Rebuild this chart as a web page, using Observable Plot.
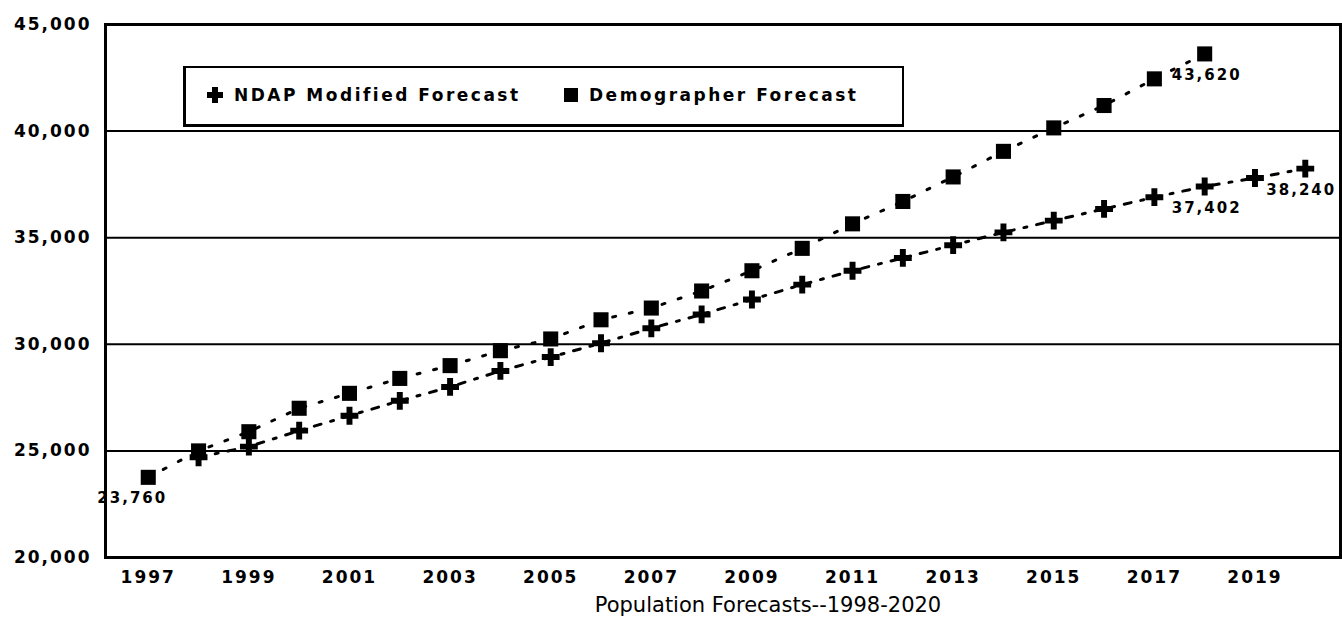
<!DOCTYPE html>
<html>
<head>
<meta charset="utf-8">
<script src="https://cdn.jsdelivr.net/npm/d3@7"></script>
<script src="https://cdn.jsdelivr.net/npm/@observablehq/plot@0.6"></script>
<style>
  html, body { margin: 0; padding: 0; background: #fff; }
  #wrap { position: relative; width: 1342px; height: 628px; overflow: hidden; background: #fff; }
  #chart svg text { letter-spacing: 2px; }
  #legend { position: absolute; left: 183px; top: 66px; width: 716px; height: 56px;
    border: 2px solid #000; border-bottom-width: 3px; border-left-width: 3px; box-sizing: content-box;
    font-family: "DejaVu Sans", sans-serif; font-weight: bold; font-size: 17px; letter-spacing: 2.5px; }
  #legend .item { position: absolute; top: 17px; display: flex; align-items: center; white-space: nowrap; }
  #legend svg { margin-right: 10px; }
  #title { position: absolute; top: 593px; left: 0; width: 1342px; text-align: center;
    font-family: "DejaVu Sans", sans-serif; font-size: 21px; padding-left: 194px; box-sizing: border-box; }
</style>
</head>
<body>
<div id="wrap">
  <div id="chart"></div>
  <div id="legend"></div>
  <div id="title"></div>
</div>
<script>
// ---- data ----
const titleText = "Population Forecasts--1998-2020";
const seriesNames = ["NDAP Modified Forecast", "Demographer Forecast"];

const demoYears = [1997, 1998, 1999, 2000, 2001, 2002, 2003, 2004, 2005, 2006, 2007,
                   2008, 2009, 2010, 2011, 2012, 2013, 2014, 2015, 2016, 2017, 2018];
const demoValues = [23760, 25000, 25900, 27000, 27700, 28400, 29000, 29700, 30250, 31150, 31700,
                    32500, 33450, 34500, 35650, 36700, 37850, 39050, 40150, 41200, 42450, 43620];

const ndapYears = [1998, 1999, 2000, 2001, 2002, 2003, 2004, 2005, 2006, 2007, 2008, 2009,
                   2010, 2011, 2012, 2013, 2014, 2015, 2016, 2017, 2018, 2019, 2020];
const ndapValues = [24700, 25200, 25950, 26650, 27350, 28000, 28750, 29400, 30050, 30750, 31400, 32100,
                    32800, 33450, 34050, 34650, 35250, 35800, 36350, 36900, 37402, 37800, 38240];

const demoLabelYears = [1997, 2018];
const ndapLabelYears = [2018, 2020];

const xTicks = [1997, 1999, 2001, 2003, 2005, 2007, 2009, 2011, 2013, 2015, 2017, 2019];
const yTicks = [20000, 25000, 30000, 35000, 40000, 45000];

// ---- build ----
const demo = demoYears.map((year, i) => ({year, value: demoValues[i]}));
const ndap = ndapYears.map((year, i) => ({year, value: ndapValues[i]}));
const fmt = d3.format(",");

const chart = Plot.plot({
  width: 1342,
  height: 590,
  marginLeft: 105,
  marginRight: 2,
  marginTop: 24,
  marginBottom: 33,
  style: {fontFamily: "DejaVu Sans", fontSize: "17px", fontWeight: "bold", background: "white", color: "black", overflow: "visible"},
  x: {domain: [1996.15, 2020.7], ticks: xTicks, tickFormat: d => String(d), tickSize: 0, tickPadding: 13, label: null},
  y: {domain: [20000, 45000], ticks: yTicks, tickFormat: d => fmt(d), tickSize: 0, tickPadding: 14, label: null},
  marks: [
    Plot.ruleY(yTicks, {stroke: "black", strokeWidth: 2}),
    Plot.frame({stroke: "black", strokeWidth: 3}),
    Plot.line(demo, {x: "year", y: "value", stroke: "black", strokeWidth: 3, strokeDasharray: "3,14"}),
    Plot.line(ndap, {x: "year", y: "value", stroke: "black", strokeWidth: 3, strokeDasharray: "7,10,3,10"}),
    Plot.dot(demo, {x: "year", y: "value", symbol: "square", r: 8.5, fill: "black", stroke: "none"}),
    Plot.dot(ndap, {x: "year", y: "value", symbol: "cross", r: 7.5, fill: "black", stroke: "none"}),
    Plot.text(demo.filter(d => d.year === demoLabelYears[0]), {x: "year", y: "value", text: d => fmt(d.value), dx: -16, dy: 21, fontSize: 15, fill: "black"}),
    Plot.text(demo.filter(d => d.year === demoLabelYears[1]), {x: "year", y: "value", text: d => fmt(d.value), dx: 2, dy: 21, fontSize: 15, fill: "black"}),
    Plot.text(ndap.filter(d => d.year === ndapLabelYears[0]), {x: "year", y: "value", text: d => fmt(d.value), dx: 2, dy: 22, fontSize: 15, fill: "black"}),
    Plot.text(ndap.filter(d => d.year === ndapLabelYears[1]), {x: "year", y: "value", text: d => fmt(d.value), dx: -4, dy: 22, fontSize: 15, fill: "black"})
  ]
});
document.getElementById("chart").appendChild(chart);

// legend (inside plot area, as in the reference)
const legend = document.getElementById("legend");
const plusIcon = `<svg width="18" height="18" viewBox="-9 -9 18 18"><path d="M-3,-8H3V-3H8V3H3V8H-3V3H-8V-3H-3Z" fill="black"/></svg>`;
const squareIcon = `<svg width="16" height="16" viewBox="0 0 16 16"><rect x="1" y="1" width="14" height="14" fill="black"/></svg>`;
const items = [
  {name: seriesNames[0], icon: plusIcon, left: 20},
  {name: seriesNames[1], icon: squareIcon, left: 377}
];
for (const it of items) {
  const div = document.createElement("div");
  div.className = "item";
  div.style.left = it.left + "px";
  div.innerHTML = it.icon + `<span>${it.name}</span>`;
  legend.appendChild(div);
}
document.getElementById("title").textContent = titleText;
</script>
</body>
</html>
